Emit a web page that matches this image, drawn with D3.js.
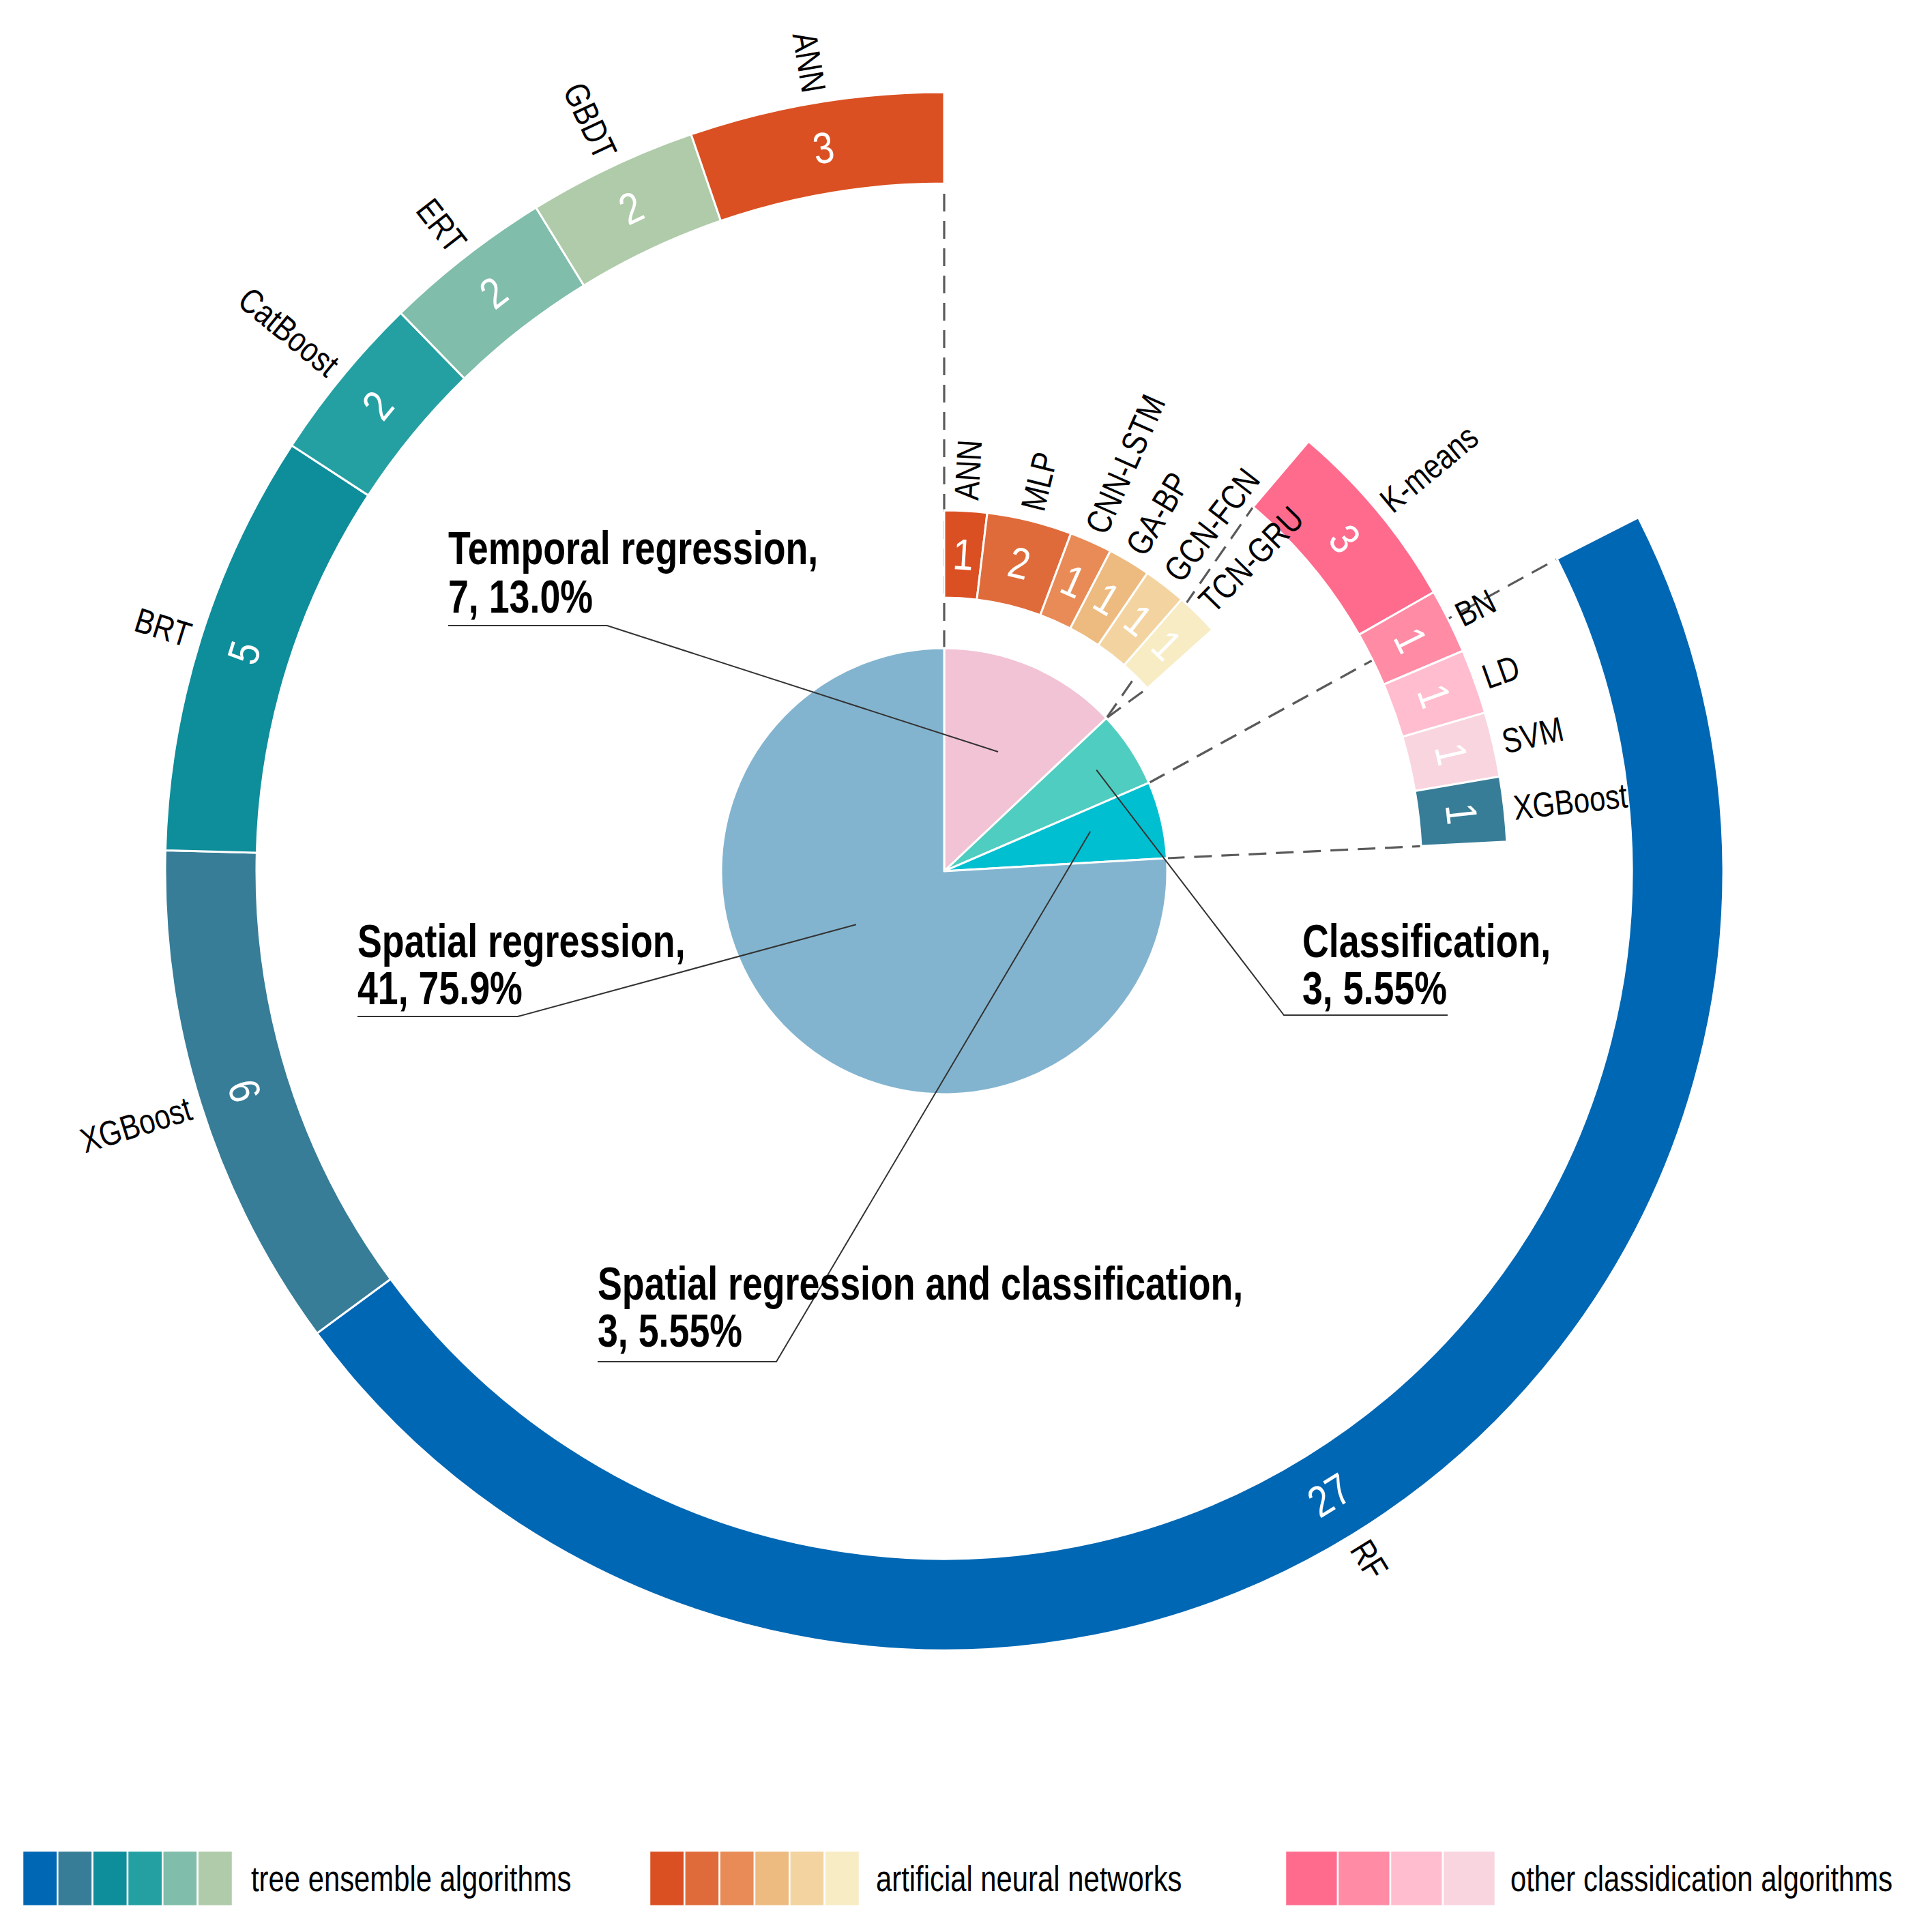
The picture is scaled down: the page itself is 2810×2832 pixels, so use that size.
<!DOCTYPE html>
<html><head><meta charset="utf-8">
<script src="https://cdn.jsdelivr.net/npm/d3@7"></script>
<style>body{margin:0;background:#fff}</style>
</head><body>
<svg id="c" width="2810" height="2832"></svg>
<script>
// ---------------- DATA ----------------
const pieCategories = ["Temporal regression", "Classification", "Spatial regression and classification", "Spatial regression"];
const pieValues = [7, 3, 3, 41];
const pieValueLabels = ["7, 13.0%", "3, 5.55%", "3, 5.55%", "41, 75.9%"];
const pieColors = ["#F2C2D5", "#4FCDC0", "#00BFD1", "#83B4CF"];

// outer ring (spatial regression algorithms), clockwise order
const outerNames = ["RF", "XGBoost", "BRT", "CatBoost", "ERT", "GBDT", "ANN"];
const outerValues = [27, 6, 5, 2, 2, 2, 3];
const outerColors = ["#0067B4", "#377D97", "#0E8D9A", "#24A0A3", "#80BDAB", "#AFCBA9", "#DA5022"];

// temporal regression ring
const temporalNames = ["ANN", "MLP", "CNN-LSTM", "GA-BP", "GCN-FCN", "TCN-GRU"];
const temporalValues = [1, 2, 1, 1, 1, 1];
const temporalColors = ["#DA5022", "#E06B3A", "#E88B57", "#EDBB80", "#F3D4A0", "#F8ECC4"];

// classification ring
const classNames = ["K-means", "BN", "LD", "SVM", "XGBoost"];
const classValues = [3, 1, 1, 1, 1];
const classColors = ["#FF6B8D", "#FF8BA5", "#FFBDCF", "#F9D5DF", "#377D97"];

// legend
const legendLabels = ["tree ensemble algorithms", "artificial neural networks", "other classidication algorithms"];
const legendSwatches = [
  ["#0067B4", "#377D97", "#0E8D9A", "#24A0A3", "#80BDAB", "#AFCBA9"],
  ["#DA5022", "#E06B3A", "#E88B57", "#EDBB80", "#F3D4A0", "#F8ECC4"],
  ["#FF6B8D", "#FF8BA5", "#FFBDCF", "#F9D5DF"]
];

// ---------------- LAYOUT ----------------
const cx = 1384, cy = 1277;
const rad = d => d * Math.PI / 180;
const deg = r => r * 180 / Math.PI;
const FONT = "'Liberation Sans', Arial, sans-serif";
const pieR = 327;
const outerRing = {a0: 63, a1: 360, r0: 1008, r1: 1142, labelR: 1158};
const temporalRing = {a0: 0, a1: 48, r0: 401, r1: 529, labelR: 545};
const classRing = {a0: 40.3, a1: 87, r0: 700, r1: 826, labelR: 840};

const svg = d3.select("#c");
svg.append("rect").attr("width", 2810).attr("height", 2832).attr("fill", "#fff");
const g = svg.append("g").attr("transform", `translate(${cx},${cy})`);

const pieArcs = d3.pie().sort(null).startAngle(0).endAngle(2 * Math.PI)(pieValues);
const pt = (a, r) => d3.pointRadial(a, r);

// ---------- dashed connector lines (beneath) ----------
const dashG = g.append("g").attr("stroke", "#5a5a5a").attr("stroke-width", 3.2)
  .attr("stroke-dasharray", "26,14").attr("fill", "none");
const conn = [
  [pt(0, pieR), pt(0, outerRing.r0)],
  [pt(pieArcs[0].endAngle, pieR), pt(rad(temporalRing.a1), temporalRing.r0)],
  [pt(pieArcs[0].endAngle, pieR), pt(rad(classRing.a0), classRing.r0)],
  [pt(pieArcs[1].endAngle, pieR), pt(rad(outerRing.a0), outerRing.r0)],
  [pt(pieArcs[2].endAngle, pieR), pt(rad(classRing.a1), classRing.r0)]
];
conn.forEach(([p, q]) => dashG.append("line").attr("x1", p[0]).attr("y1", p[1]).attr("x2", q[0]).attr("y2", q[1]));

// ---------- pie ----------
const pieArcGen = d3.arc().innerRadius(0).outerRadius(pieR);
g.append("g").selectAll("path").data(pieArcs).join("path")
  .attr("d", pieArcGen).attr("fill", (d, i) => pieColors[i])
  .attr("stroke", "#fff").attr("stroke-width", 3).attr("stroke-linejoin", "round");

// ---------- rings ----------
const ringLayer = g.append("g");
const labelLayer = g.append("g");
function drawRing(names, values, colors, cfg) {
  const arcs = d3.pie().sort(null).startAngle(rad(cfg.a0)).endAngle(rad(cfg.a1))(values);
  const arcGen = d3.arc().innerRadius(cfg.r0).outerRadius(cfg.r1);
  const rg = ringLayer.append("g");
  rg.selectAll("path").data(arcs).join("path")
    .attr("d", arcGen).attr("fill", (d, i) => colors[i])
    .attr("stroke", "#fff").attr("stroke-width", 3);
  const midR = (cfg.r0 + cfg.r1) / 2;
  // numbers
  rg.selectAll("text.num").data(arcs).join("text").attr("class", "num")
    .attr("transform", d => {
      const a = (d.startAngle + d.endAngle) / 2;
      const [x, y] = pt(a, midR);
      let r = deg(a);
      if (r > 90 && r < 270) r -= 180;
      return `translate(${x},${y}) rotate(${r}) scale(0.85,1)`;
    })
    .attr("text-anchor", "middle").attr("dominant-baseline", "central")
    .attr("font-family", FONT).attr("font-size", 64).attr("fill", "#fff")
    .text(d => d.value);
  // names (top layer)
  labelLayer.append("g").selectAll("text").data(arcs).join("text")
    .attr("transform", d => {
      const a = (d.startAngle + d.endAngle) / 2;
      const [x, y] = pt(a, cfg.labelR);
      const r = deg(a);
      const rot = r < 180 ? r - 90 : r + 90;
      return `translate(${x},${y}) rotate(${rot}) scale(0.82,1)`;
    })
    .attr("text-anchor", d => deg((d.startAngle + d.endAngle) / 2) < 180 ? "start" : "end")
    .attr("dominant-baseline", "central")
    .attr("font-family", FONT).attr("font-size", 51).attr("fill", "#000")
    .text((d, i) => names[i]);
}
drawRing(outerNames, outerValues, outerColors, outerRing);
drawRing(temporalNames, temporalValues, temporalColors, temporalRing);
drawRing(classNames, classValues, classColors, classRing);

// ---------- pie annotations ----------
const annLayout = [
  {x: 657, b1: 827, b2: 898, u0: 657, u1: 890, uy: 917, ang: 24.3, r: 192, side: "right"},
  {x: 1909, b1: 1403, b2: 1472, u0: 1882, u1: 2122, uy: 1488, ang: 56.4, r: 268, side: "left"},
  {x: 876, b1: 1905, b2: 1974, u0: 876, u1: 1138, uy: 1996, ang: 74.8, r: 222, side: "right"},
  {x: 524, b1: 1403, b2: 1472, u0: 524, u1: 759, uy: 1490, ang: 238.8, r: 151, side: "right"}
];
const annG = svg.append("g");
pieCategories.forEach((name, i) => {
  const L = annLayout[i];
  const [ax, ay] = pt(rad(L.ang), L.r);
  const px = ax + cx, py = ay + cy;
  annG.append("polyline")
    .attr("points", L.side === "right"
      ? `${L.u0},${L.uy} ${L.u1},${L.uy} ${px},${py}`
      : `${px},${py} ${L.u0},${L.uy} ${L.u1},${L.uy}`)
    .attr("fill", "none").attr("stroke", "#333").attr("stroke-width", 2);
  [name + ",", pieValueLabels[i]].forEach((t, k) => {
    annG.append("text")
      .attr("transform", `translate(${L.x},${k === 0 ? L.b1 : L.b2}) scale(0.79,1)`)
      .attr("font-family", FONT).attr("font-weight", "bold").attr("font-size", 68)
      .attr("fill", "#000").text(t);
  });
});

// ---------- legend ----------
const legX = [33, 952, 1884];
const legW = 308, legY = 2713, legH = 81;
const legTextX = [368, 1284, 2214];
const legG = svg.append("g");
legendLabels.forEach((lab, gi) => {
  const cols = legendSwatches[gi];
  const xs = d3.scaleBand().domain(d3.range(cols.length)).range([legX[gi], legX[gi] + legW]).padding(0);
  legG.append("g").selectAll("rect").data(cols).join("rect")
    .attr("x", (d, i) => xs(i)).attr("y", legY)
    .attr("width", xs.bandwidth()).attr("height", legH)
    .attr("fill", d => d).attr("stroke", "#fff").attr("stroke-width", 2.5);
  legG.append("text")
    .attr("transform", `translate(${legTextX[gi]},${2772}) scale(0.82,1)`)
    .attr("font-family", FONT).attr("font-size", 51).attr("fill", "#000").text(lab);
});
</script>
</body></html>
